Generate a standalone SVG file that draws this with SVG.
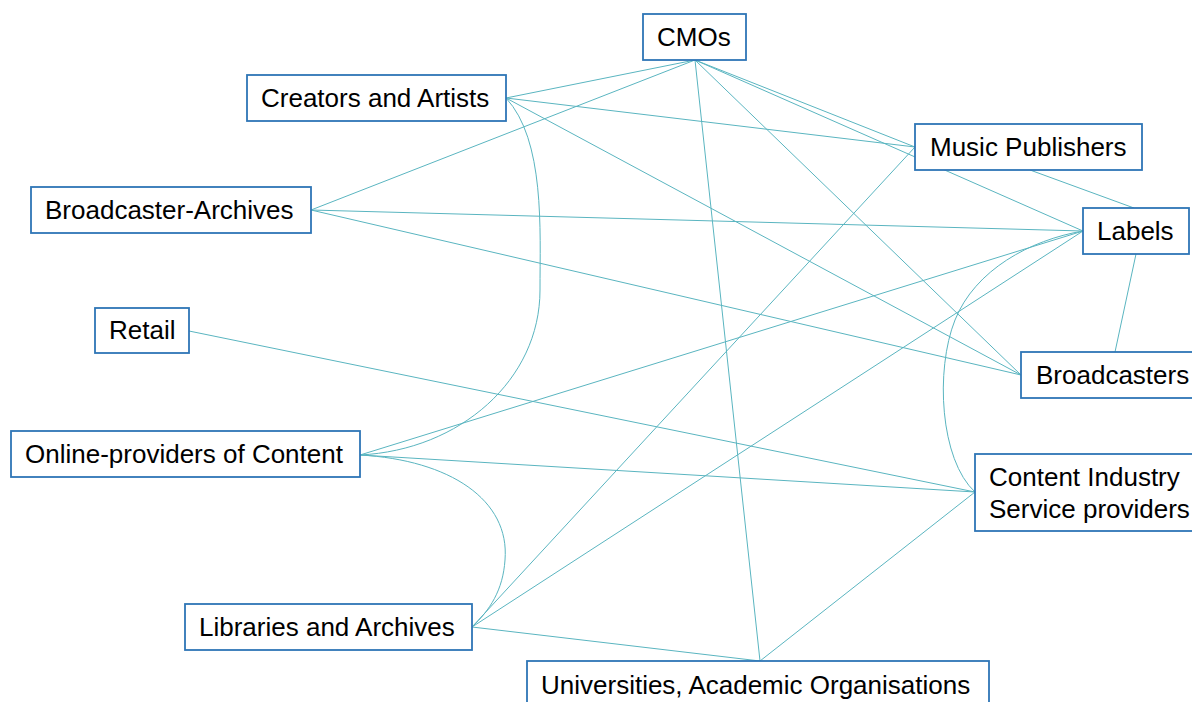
<svg xmlns="http://www.w3.org/2000/svg" width="1192" height="702" viewBox="0 0 1192 702">
  <style>
    .box { fill: #ffffff; stroke: #2e75b6; stroke-width: 1.8; }
    .lbl { font-family: "Liberation Sans", Arial, sans-serif; font-size: 26px; fill: #000000; }
    .edge { fill: none; stroke: #5ab5c0; stroke-width: 1; }
  </style>
  <rect width="1192" height="702" fill="#ffffff"/>

  <!-- connectors -->
  <g id="connectors">
    <line class="edge" x1="695" y1="60" x2="506" y2="98"/>
    <line class="edge" x1="695" y1="60" x2="311" y2="210"/>
    <line class="edge" x1="695" y1="60" x2="915" y2="147"/>
    <line class="edge" x1="695" y1="60" x2="1083" y2="231"/>
    <line class="edge" x1="695" y1="60" x2="1021" y2="375"/>
    <line class="edge" x1="695" y1="60" x2="760" y2="661"/>
    <line class="edge" x1="506" y1="98" x2="915" y2="147"/>
    <line class="edge" x1="506" y1="98" x2="1021" y2="375"/>
    <path class="edge" d="M506 98 C545 140 540 230 540 290 C540 380 460 450 360 455"/>
    <line class="edge" x1="311" y1="210" x2="1083" y2="231"/>
    <line class="edge" x1="311" y1="210" x2="1021" y2="375"/>
    <line class="edge" x1="1030" y1="170" x2="1134" y2="208"/>
    <line class="edge" x1="915" y1="147" x2="472" y2="627"/>
    <line class="edge" x1="1136" y1="254" x2="1115" y2="352"/>
    <line class="edge" x1="1083" y1="231" x2="360" y2="455"/>
    <line class="edge" x1="1083" y1="231" x2="472" y2="627"/>
    <path class="edge" d="M975 492 C940 460 935 370 955 320 C975 270 1030 240 1083 231"/>
    <line class="edge" x1="189" y1="331" x2="975" y2="492"/>
    <line class="edge" x1="360" y1="455" x2="975" y2="492"/>
    <path class="edge" d="M360 455 C450 460 510 500 505 560 C503 590 490 610 472 627"/>
    <line class="edge" x1="472" y1="627" x2="760" y2="661"/>
    <line class="edge" x1="975" y1="492" x2="760" y2="661"/>
  </g>

  <!-- nodes -->
  <g id="cmos">
    <rect class="box" x="643" y="14" width="103" height="46"/>
    <text class="lbl" x="657" y="46">CMOs</text>
  </g>
  <g id="creators">
    <rect class="box" x="247" y="75" width="259" height="46"/>
    <text class="lbl" x="261" y="107">Creators and Artists</text>
  </g>
  <g id="music-publishers">
    <rect class="box" x="915" y="124" width="227" height="46"/>
    <text class="lbl" x="930" y="156">Music Publishers</text>
  </g>
  <g id="broadcaster-archives">
    <rect class="box" x="31" y="187" width="280" height="46"/>
    <text class="lbl" x="45" y="219">Broadcaster-Archives</text>
  </g>
  <g id="labels">
    <rect class="box" x="1083" y="208" width="106" height="46"/>
    <text class="lbl" x="1097" y="240">Labels</text>
  </g>
  <g id="retail">
    <rect class="box" x="95" y="308" width="94" height="45"/>
    <text class="lbl" x="109" y="339">Retail</text>
  </g>
  <g id="broadcasters">
    <rect class="box" x="1021" y="352" width="180" height="46"/>
    <text class="lbl" x="1036" y="384">Broadcasters</text>
  </g>
  <g id="content-industry">
    <rect class="box" x="975" y="454" width="230" height="77"/>
    <text class="lbl" x="989" y="486">Content Industry</text>
    <text class="lbl" x="989" y="518">Service providers</text>
  </g>
  <g id="online-providers">
    <rect class="box" x="11" y="431" width="349" height="46"/>
    <text class="lbl" x="25" y="463">Online-providers of Content</text>
  </g>
  <g id="libraries">
    <rect class="box" x="185" y="604" width="287" height="46"/>
    <text class="lbl" x="199" y="636">Libraries and Archives</text>
  </g>
  <g id="universities">
    <rect class="box" x="527" y="661" width="462" height="50"/>
    <text class="lbl" x="541" y="694">Universities, Academic Organisations</text>
  </g>
</svg>
